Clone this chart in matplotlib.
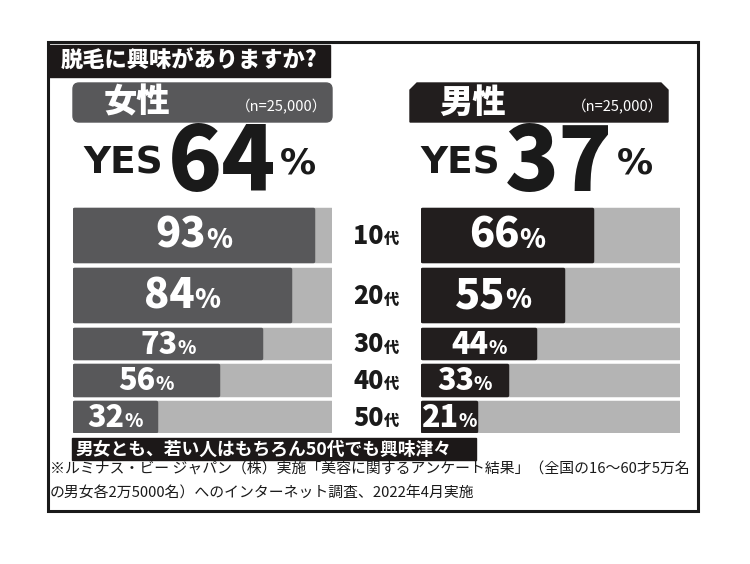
import matplotlib as mpl
mpl.use('Agg')
import matplotlib.pyplot as plt
from matplotlib.patches import Rectangle, FancyBboxPatch, Polygon
from matplotlib.offsetbox import TextArea, HPacker, AnnotationBbox

plt.rcParams['font.family'] = ['Noto Sans CJK JP', 'DejaVu Sans']

# data
ages = ['10', '20', '30', '40', '50']
women = [93, 84, 73, 56, 32]
men = [66, 55, 44, 33, 21]
yes_women = 64
yes_men = 37
n_label = '（n=25,000）'

title = '脱毛に興味がありますか?'
banner = '男女とも、若い人はもちろん50代でも興味津々'
note = ('※ルミナス・ビー ジャパン（株）実施「美容に関するアンケート結果」（全国の16〜60才5万名\n'
        'の男女各2万5000名）へのインターネット調査、2022年4月実施')

NUM = ['Noto Sans CJK JP', 'DejaVu Sans']
W, H = 750, 564
c_women = '#58585a'
c_men = '#221e1e'
c_track = '#b4b4b4'
ink = '#1a1a1a'

fig = plt.figure(figsize=(7.5, 5.64), dpi=100)
bg = fig.add_axes([0, 0, 1, 1])
bg.set_xlim(0, W)
bg.set_ylim(H, 0)
bg.axis('off')

# frame and title
bg.add_patch(Rectangle((48, 42), 650, 469, fill=False, ec=ink, lw=2.2))
bg.add_patch(Rectangle((49, 45), 281, 32, color='#1c1818'))
bg.text(61, 61.5, title, color='white', fontsize=16, fontweight='black', va='center')

# headers
bg.add_patch(FancyBboxPatch((73, 83), 259, 39, boxstyle='round,pad=0,rounding_size=6',
                            color=c_women))
bg.add_patch(Polygon([(410, 122), (410, 90), (417, 83), (661, 83), (668, 90), (668, 122)],
                     color=c_men))
for x0, x1, lab in [(104, 327, '女性'), (439, 663, '男性')]:
    bg.text(x0, 102, lab, color='white', fontsize=24, fontweight='black', va='center')
    bg.text(x1, 107, n_label, color='white', fontsize=10.5, va='center', ha='right')


def packed(parts, xy, align='baseline', sep=2):
    boxes = [TextArea(s, textprops=p) for s, p in parts]
    pk = HPacker(children=boxes, align=align, pad=0, sep=sep)
    ab = AnnotationBbox(pk, xy, frameon=False, box_alignment=(0.5, 0.5), pad=0)
    return ab


for cx, v in [(200, yes_women), (537, yes_men)]:
    parts = [('YES', dict(fontsize=27, fontweight='heavy', family='DejaVu Sans', color=ink)),
             (str(v), dict(fontsize=64, fontweight='black', family=NUM, color=ink)),
             ('%', dict(fontsize=26, fontweight='bold', family='DejaVu Sans', color=ink))]
    bg.add_artist(packed(parts, (cx, 164), align='center', sep=3))

# bars
centers = [235, 295.5, 343.5, 380, 416.5]
heights = [52, 52, 29, 30, 29]
num_size = [30, 30, 22, 22, 22]
pct_size = [19, 19, 13.5, 13.5, 13.5]

for x0, x1, vals, col in [(73, 332, women, c_women), (421, 680, men, c_men)]:
    ax = fig.add_axes([x0 / W, 1 - 433 / H, (x1 - x0) / W, (433 - 207) / H])
    ax.set_xlim(-0.5, 100.5)
    ax.set_ylim(433, 207)
    ax.axis('off')
    ax.barh(centers, [100] * len(vals), height=heights, color=c_track, ec=c_track,
            lw=2.5, joinstyle='round')
    bars = ax.barh(centers, vals, height=heights, color=col, ec=col, lw=2.5, joinstyle='round')
    for i, b in enumerate(bars):
        parts = [(str(vals[i]), dict(fontsize=num_size[i], fontweight='black', family=NUM,
                                     color='white')),
                 ('%', dict(fontsize=pct_size[i], fontweight='black', family=NUM,
                            color='white'))]
        ax.add_artist(packed(parts, (b.get_width() / 2, centers[i] + 1), sep=0))

for i, a in enumerate(ages):
    parts = [(a, dict(fontsize=18, fontweight='black', family=NUM, color=ink)),
             ('代', dict(fontsize=11, fontweight='black', color=ink))]
    bg.add_artist(packed(parts, (376, centers[i] + 1), sep=0))

# footer
bg.add_patch(Rectangle((72, 438), 404, 22, color='#1c1818'))
bg.text(76, 449.5, banner, color='white', fontsize=12.8, fontweight='bold', va='center')
bg.text(50, 470, note.split('\n')[0], color=ink, fontsize=10.7, va='center')
bg.text(50, 493, note.split('\n')[1], color=ink, fontsize=10.7, va='center')

plt.savefig('out.png', dpi=100)
